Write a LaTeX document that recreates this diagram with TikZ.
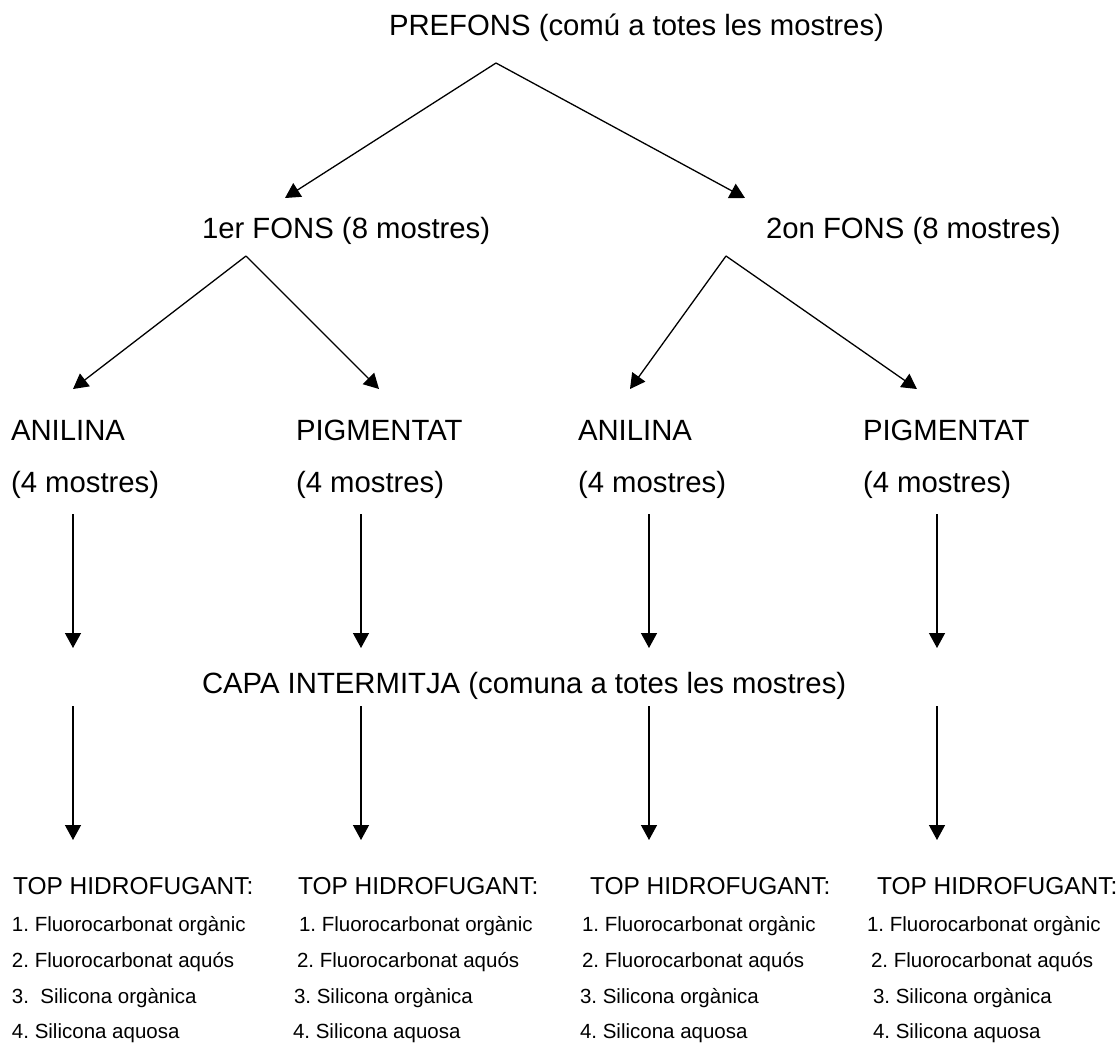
\documentclass[tikz,border=0pt]{standalone}
\usepackage{fontspec}
\setmainfont{Liberation Sans}
\usetikzlibrary{arrows.meta}
\frenchspacing
\begin{document}
\begin{tikzpicture}[x=1pt,y=-1pt,
  lbl/.style={anchor=base west,inner sep=0pt,outer sep=0pt,font=\fontsize{29.3}{35}\selectfont},
  toplbl/.style={anchor=base west,inner sep=0pt,outer sep=0pt,font=\fontsize{24.5}{29}\selectfont},
  itemlbl/.style={anchor=base west,inner sep=0pt,outer sep=0pt,font=\fontsize{20.5}{25}\selectfont},
  arr/.style={line width=1.3pt,-{Triangle[length=15pt,width=16pt]}}]
\useasboundingbox (0,0) rectangle (1118,1045);
\fill[white] (0,0) rectangle (1118,1045);

% main labels
\node[lbl] (prefons) at (389,35) {PREFONS (comú a totes les mostres)};
\node[lbl] (fons1) at (202,238) {1er FONS (8 mostres)};
\node[lbl] (fons2) at (766,238) {2on FONS (8 mostres)};
\node[lbl] (an1) at (11,440) {ANILINA};
\node[lbl] (pi1) at (296,440) {PIGMENTAT};
\node[lbl] (an2) at (578,440) {ANILINA};
\node[lbl] (pi2) at (863,440) {PIGMENTAT};
\node[lbl] (an1m) at (11,492) {(4 mostres)};
\node[lbl] (pi1m) at (296,492) {(4 mostres)};
\node[lbl] (an2m) at (578,492) {(4 mostres)};
\node[lbl] (pi2m) at (863,492) {(4 mostres)};
\node[lbl] (capa) at (202,693) {CAPA INTERMITJA (comuna a totes les mostres)};

% top hidrofugant columns
\node[toplbl] (top1) at (13,894) {TOP HIDROFUGANT:};
\node[toplbl] (top2) at (298,894) {TOP HIDROFUGANT:};
\node[toplbl] (top3) at (590,894) {TOP HIDROFUGANT:};
\node[toplbl] (top4) at (877,894) {TOP HIDROFUGANT:};

\node[itemlbl] (c1a) at (12,931) {1. Fluorocarbonat orgànic};
\node[itemlbl] (c1b) at (12,967) {2. Fluorocarbonat aquós};
\node[itemlbl] (c1c) at (12,1003) {3.\ \ Silicona orgànica};
\node[itemlbl] (c1d) at (12,1038) {4. Silicona aquosa};

\node[itemlbl] (c2a) at (299,931) {1. Fluorocarbonat orgànic};
\node[itemlbl] (c2b) at (297,967) {2. Fluorocarbonat aquós};
\node[itemlbl] (c2c) at (294,1003) {3. Silicona orgànica};
\node[itemlbl] (c2d) at (293,1038) {4. Silicona aquosa};

\node[itemlbl] (c3a) at (582,931) {1. Fluorocarbonat orgànic};
\node[itemlbl] (c3b) at (582,967) {2. Fluorocarbonat aquós};
\node[itemlbl] (c3c) at (580,1003) {3. Silicona orgànica};
\node[itemlbl] (c3d) at (580,1038) {4. Silicona aquosa};

\node[itemlbl] (c4a) at (867,931) {1. Fluorocarbonat orgànic};
\node[itemlbl] (c4b) at (871,967) {2. Fluorocarbonat aquós};
\node[itemlbl] (c4c) at (873,1003) {3. Silicona orgànica};
\node[itemlbl] (c4d) at (873,1038) {4. Silicona aquosa};

% connector end points
\coordinate (apexP) at (496,63);
\coordinate (tipF1) at (285,198);
\coordinate (tipF2) at (745,198);
\coordinate (apexF1) at (246,256);
\coordinate (tipA1) at (73,389);
\coordinate (tipP1) at (379,389);
\coordinate (apexF2) at (726,256);
\coordinate (tipA2) at (630,389);
\coordinate (tipP2) at (917,389);

\foreach \n/\x in {1/73,2/361,3/649,4/937}{
  \coordinate (vs\n) at (\x,514);
  \coordinate (vt\n) at (\x,648);
  \coordinate (ws\n) at (\x,706);
  \coordinate (wt\n) at (\x,840);
}

% connectors
\draw[arr] (apexP) -- (tipF1);
\draw[arr] (apexP) -- (tipF2);
\draw[arr] (apexF1) -- (tipA1);
\draw[arr] (apexF1) -- (tipP1);
\draw[arr] (apexF2) -- (tipA2);
\draw[arr] (apexF2) -- (tipP2);
\foreach \n in {1,2,3,4}{
  \draw[arr] (vs\n) -- (vt\n);
  \draw[arr] (ws\n) -- (wt\n);
}
\end{tikzpicture}
\end{document}
